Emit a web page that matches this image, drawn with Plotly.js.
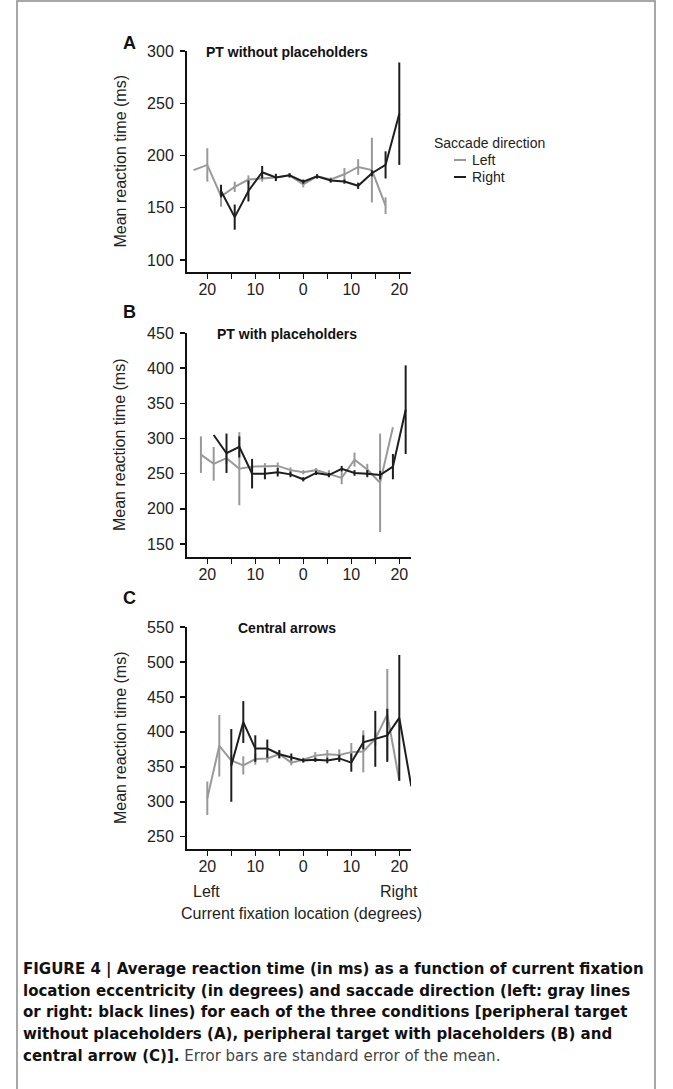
<!DOCTYPE html>
<html>
<head>
<meta charset="utf-8">
<script src="https://cdn.plot.ly/plotly-3.0.1.min.js"></script>
<style>
html,body{margin:0;padding:0;background:#fff;}
#chart{width:673px;height:1089px;}
</style>
</head>
<body>
<div id="chart"></div>
<script>
// ---------------- DATA ----------------
// Panel A: PT without placeholders
var xA_left  = [-22.86, -20, -17.14, -14.29, -11.43, -8.57, -5.71, -2.86, 0, 2.86, 5.71, 8.57, 11.43, 14.29, 17.14];
var yA_left  = [186, 191, 161, 170, 177, 178, 179, 181, 172.5, 180, 177, 182, 189, 186, 152];
var eA_left  = [0, 16, 10, 5, 4, 3, 3, 2, 3, 2, 2, 6, 7.5, 31, 8];
var xA_right = [-17.14, -14.29, -11.43, -8.57, -5.71, -2.86, 0, 2.86, 5.71, 8.57, 11.43, 14.29, 17.14, 20];
var yA_right = [166, 141, 166, 184, 179, 181, 175, 180, 176, 175, 171, 183, 191, 240];
var eA_right = [6, 12, 10, 6, 3.5, 2, 2, 2, 2, 2, 3, 3, 13, 49];

// Panel B: PT with placeholders
var xB_left  = [-21.33, -18.67, -16, -13.33, -10.67, -8, -5.33, -2.67, 0, 2.67, 5.33, 8, 10.67, 13.33, 16, 18.67];
var yB_left  = [277, 264, 272, 257, 260, 260, 261, 255, 252, 255, 250, 244, 270, 256, 237, 316];
var eB_left  = [26, 24, 8, 52, 5, 5, 5, 4, 3, 3, 5, 9, 10, 8, 70, 0];
var xB_right = [-18.67, -16, -13.33, -10.67, -8, -5.33, -2.67, 0, 2.67, 5.33, 8, 10.67, 13.33, 16, 18.67, 21.33];
var yB_right = [305, 279, 288, 250, 250, 252, 249, 242, 251, 248, 257, 251, 250, 248, 260, 341];
var eB_right = [0, 28, 15, 21, 8, 6, 4, 3, 3, 3, 4, 4, 5, 6, 18, 63];

// Panel C: Central arrows
var xC_left  = [-20, -17.5, -15, -12.5, -10, -7.5, -5, -2.5, 0, 2.5, 5, 7.5, 10, 12.5, 15, 17.5, 20];
var yC_left  = [305, 380, 359, 352, 361, 362, 368, 356, 360, 366, 368, 367, 371, 372, 390, 425, 330];
var eC_left  = [24, 44, 8, 13, 8, 6, 5, 4, 3, 5, 6, 8, 13, 30, 10, 65, 0];
var xC_right = [-15, -12.5, -10, -7.5, -5, -2.5, 0, 2.5, 5, 7.5, 10, 12.5, 15, 17.5, 20, 22.5];
var yC_right = [352, 414, 376, 376, 368, 364, 359, 360, 359, 362, 356, 385, 390, 395, 420, 322];
var eC_right = [52, 30, 19, 13, 6, 5, 3, 3, 4, 5, 13, 10, 40, 38, 90, 0];

var xTickVals = [-20, -15, -10, -5, 0, 5, 10, 15, 20];
var xTickText = ['20', '', '10', '', '0', '', '10', '', '20'];
var seriesNames = ['Left', 'Right'];
var legendTitle = 'Saccade direction';
var panelTitles = ['PT without placeholders', 'PT with placeholders', 'Central arrows'];
var panelLetters = ['A', 'B', 'C'];

// ---------------- STYLE / LAYOUT ----------------
var W = 673, H = 1089;
function px(x){ return x / W; }
function py(y){ return 1 - y / H; }
var GRAY = '#999999', BLACK = '#1e1e1e';
var FONT = 'Liberation Sans, Arial, Helvetica, sans-serif';

function tr(x, y, e, name, color, ax){
  return {
    type: 'scatter', mode: 'lines', x: x, y: y, name: name,
    xaxis: ax[0], yaxis: ax[1], showlegend: false, legendgroup: name,
    line: {color: color, width: 2},
    error_y: {type: 'data', array: e, visible: true, width: 0, thickness: 2, color: color},
    hoverinfo: 'skip'
  };
}
var data = [
  tr(xA_left, yA_left, eA_left, seriesNames[0], GRAY, ['x','y']),
  tr(xA_right, yA_right, eA_right, seriesNames[1], BLACK, ['x','y']),
  tr(xB_left, yB_left, eB_left, seriesNames[0], GRAY, ['x2','y2']),
  tr(xB_right, yB_right, eB_right, seriesNames[1], BLACK, ['x2','y2']),
  tr(xC_left, yC_left, eC_left, seriesNames[0], GRAY, ['x3','y3']),
  tr(xC_right, yC_right, eC_right, seriesNames[1], BLACK, ['x3','y3'])
];

var xdom = [px(187), px(411)];
var xr = [-24.23, 22.44];
function xax(anchor){
  return {domain: xdom, range: xr, anchor: anchor, showline: true, linecolor: '#111', linewidth: 2,
    ticks: 'outside', ticklen: 5, tickwidth: 1.5, tickcolor: '#111',
    tickvals: xTickVals, ticktext: xTickText, showgrid: false, zeroline: false, ticklabelstandoff: -3,
    tickfont: {family: FONT, size: 16, color: '#222'}, fixedrange: true};
}
function yax(anchor, top, bottom, range){
  return {domain: [py(bottom), py(top)], range: range, anchor: anchor, showline: true, linecolor: '#111', linewidth: 2,
    ticks: 'outside', ticklen: 5, tickwidth: 1.5, tickcolor: '#111', dtick: 50, tick0: 0,
    showgrid: false, zeroline: false, ticklabelstandoff: 3,
    tickfont: {family: FONT, size: 16, color: '#222'}, fixedrange: true};
}

var panelTop = [51, 333, 627];
var panelBottom = [272, 557, 849];
var letterY = [43, 312, 598];

var annotations = [];
for (var i = 0; i < 3; i++) {
  annotations.push({xref:'paper', yref:'paper', x: px(129), y: py(letterY[i]), text: '<b>' + panelLetters[i] + '</b>',
    showarrow:false, xanchor:'center', yanchor:'middle', font:{family: FONT, size: 18, color:'#111'}});
  annotations.push({xref:'paper', yref:'paper', x: px(287), y: py(panelTop[i] + 1), text: '<b>' + panelTitles[i] + '</b>',
    showarrow:false, xanchor:'center', yanchor:'middle', font:{family: FONT, size: 14, color:'#111'}});
  annotations.push({xref:'paper', yref:'paper', x: px(120), y: py((panelTop[i] + panelBottom[i]) / 2), text: 'Mean reaction time (ms)',
    textangle: -90, showarrow:false, xanchor:'center', yanchor:'middle', font:{family: FONT, size: 16, color:'#222'}});
}
annotations.push({xref:'paper', yref:'paper', x: px(206), y: py(891), text: 'Left', showarrow:false,
  xanchor:'center', yanchor:'middle', font:{family: FONT, size: 16, color:'#222'}});
annotations.push({xref:'paper', yref:'paper', x: px(399), y: py(891), text: 'Right', showarrow:false,
  xanchor:'center', yanchor:'middle', font:{family: FONT, size: 16, color:'#222'}});
annotations.push({xref:'paper', yref:'paper', x: px(301), y: py(913), text: 'Current fixation location (degrees)', showarrow:false,
  xanchor:'center', yanchor:'middle', font:{family: FONT, size: 16, color:'#222'}});

// legend (title + entries)
var legX = 432, legTitleY = 143, legItemY = [160, 177], legColors = [GRAY, BLACK];
var shapes = [];
annotations.push({xref:'paper', yref:'paper', x: px(legX), y: py(legTitleY), text: legendTitle, showarrow:false,
  xanchor:'left', yanchor:'middle', font:{family: FONT, size: 14, color:'#222'}});
for (var j = 0; j < 2; j++) {
  annotations.push({xref:'paper', yref:'paper', x: px(legX + 38), y: py(legItemY[j]), text: seriesNames[j], showarrow:false,
    xanchor:'left', yanchor:'middle', font:{family: FONT, size: 14, color:'#222'}});
  shapes.push({type:'line', xref:'paper', yref:'paper', x0: px(legX + 22), x1: px(legX + 34),
    y0: py(legItemY[j]), y1: py(legItemY[j]), line:{color: legColors[j], width: 2}});
}

var CAPFONT = 'Liberation Sans Narrow, Arial Narrow, DejaVu Sans Condensed, sans-serif';
annotations.push({xref:'paper', yref:'paper', x: px(21), y: py(956), xanchor:'left', yanchor:'top', align:'left', showarrow:false,
  font:{family: CAPFONT, size: 16.7, color:'#111'},
  text: '<b>FIGURE 4 | Average reaction time (in ms) as a function of current fixation</b><br>' +
        '<b>location eccentricity (in degrees) and saccade direction (left: gray lines</b><br>' +
        '<b>or right: black lines) for each of the three conditions [peripheral target</b><br>' +
        '<b>without placeholders (A), peripheral target with placeholders (B) and</b><br>' +
        '<b>central arrow (C)].</b><span style="color:#444"> Error bars are standard error of the mean.</span>'});

shapes.push({type:'rect', xref:'paper', yref:'paper', x0: px(17), x1: px(655), y0: py(1100), y1: py(1),
  line:{color:'#8a8a8a', width:1.5}, fillcolor:'rgba(0,0,0,0)', layer:'below'});

var layout = {
  width: W, height: H, margin: {l:0, r:0, t:0, b:0, pad:0},
  paper_bgcolor: '#fff', plot_bgcolor: 'rgba(0,0,0,0)',
  font: {family: FONT, size: 14, color: '#222'},
  xaxis: xax('y'), yaxis: yax('x', panelTop[0], panelBottom[0], [88.5, 300]),
  xaxis2: xax('y2'), yaxis2: yax('x2', panelTop[1], panelBottom[1], [131.5, 450]),
  xaxis3: xax('y3'), yaxis3: yax('x3', panelTop[2], panelBottom[2], [232.4, 550]),
  showlegend: false,
  annotations: annotations,
  shapes: shapes
};

Plotly.newPlot('chart', data, layout, {staticPlot: true, displayModeBar: false});
</script>
</body>
</html>
